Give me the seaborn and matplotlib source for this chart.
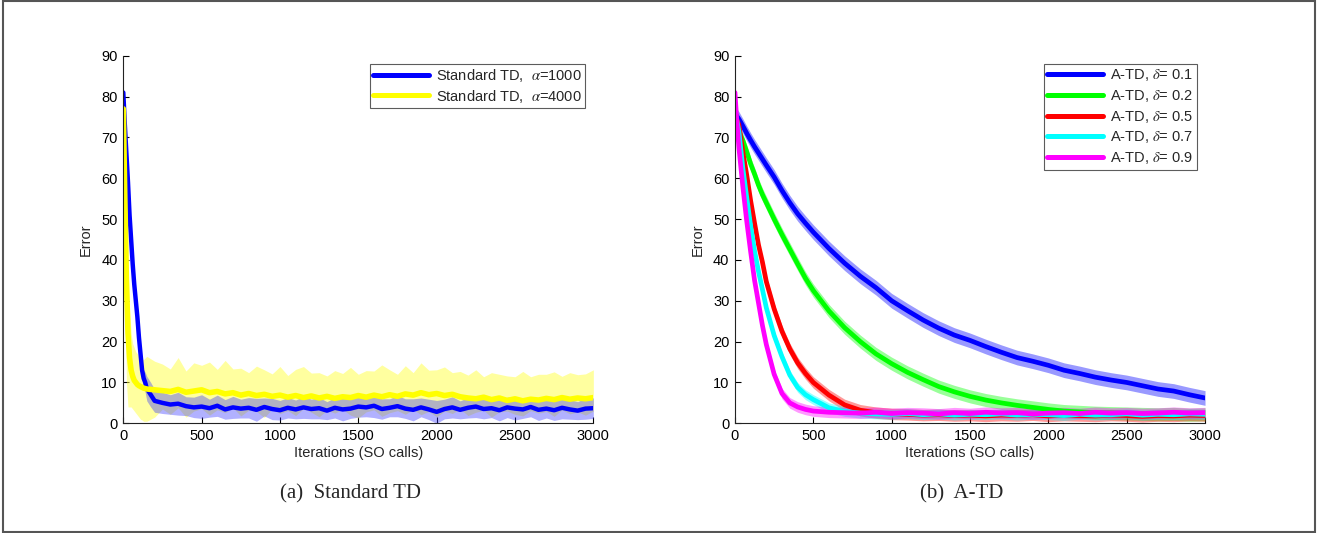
import numpy as np
import pandas as pd
import seaborn as sns
from matplotlib import pyplot as plt

# ---- data ----
# (a) standard TD, x sampled finer during the fast drop
iters_a = [0, 10, 20, 30, 40, 50, 60, 70, 80, 90, 100, 110, 120, 130, 140, 150, 175, 200] + list(range(250, 3001, 50))

td1000_mean = [81, 73, 66, 59, 51, 45, 39, 34, 30, 26, 21, 17, 13, 11, 10, 8.5, 7, 5.5,
               5.0, 4.6, 4.8, 4.2, 3.9, 4.1, 3.7, 4.3,
               3.4, 3.9, 3.6, 3.8, 3.3, 4.0, 3.5, 3.2,
               3.8, 3.4, 3.9, 3.5, 3.7, 3.1, 3.8, 3.4,
               3.6, 4.1, 3.9, 4.3, 3.5, 3.8, 4.2, 3.6,
               3.3, 3.9, 3.4, 2.8, 3.5, 3.9, 3.3, 3.8,
               4.1, 3.5, 3.7, 3.2, 3.9, 3.6, 3.4, 4.0,
               3.3, 3.6, 3.2, 3.8, 3.4, 3.1, 3.6, 3.7]
td1000_spread = [1.0, 1.5, 1.5, 1.5, 1.5, 1.5, 1.5, 1.5, 1.5, 1.5, 1.5, 1.5, 1.8, 2.0, 2.5, 3.0, 3.0, 2.8,
                 2.6, 2.4, 2.8, 2.3, 2.5, 2.9, 2.2, 2.6,
                 2.4, 2.7, 2.3, 2.5, 2.8, 2.2, 2.6, 2.4,
                 2.5, 2.3, 2.7, 2.4, 2.6, 2.2, 2.5, 2.8,
                 2.4, 2.6, 2.3, 2.9, 2.5, 2.2, 2.6, 2.4,
                 2.7, 2.3, 2.5, 2.8, 2.4, 2.6, 2.2, 2.5,
                 2.7, 2.4, 2.3, 2.6, 2.5, 2.8, 2.2, 2.4,
                 2.6, 2.3, 2.5, 2.7, 2.4, 2.2, 2.6, 2.5]

td4000_mean = [77, 55, 35, 22, 16, 13, 11.5, 10.5, 10, 9.5, 9.2, 9.0, 8.8, 8.6, 8.5, 8.4, 8.3, 8.2,
               8.0, 7.8, 8.3, 7.6, 7.9, 8.2, 7.5, 7.8,
               7.2, 7.5, 6.9, 7.3, 6.8, 7.1, 6.6, 6.9,
               6.4, 6.8, 6.3, 6.7, 6.2, 6.6, 6.1, 6.5,
               6.3, 6.8, 6.4, 6.9, 6.5, 7.0, 6.6, 7.2,
               6.9, 7.5, 7.0, 7.3, 6.8, 7.1, 6.5, 6.2,
               6.0, 6.4, 5.8, 6.2, 5.6, 6.0, 5.5, 5.9,
               5.7, 6.1, 5.8, 6.3, 5.9, 6.2, 6.0, 6.3]
# upper spread of the light yellow band, and its lower edge
td4000_up = [3, 20, 25, 18, 12, 9, 8, 8, 7.5, 7.5, 7, 7, 7, 7, 7.5, 8, 7.5, 7,
             6.5, 5.5, 7.8, 5.2, 6.9, 6.0, 7.5, 5.4,
             8.2, 5.8, 6.6, 5.1, 7.2, 6.0, 5.5, 7.0,
             5.3, 6.4, 7.6, 5.6, 6.2, 5.0, 6.8, 5.7,
             7.4, 5.2, 6.5, 5.9, 7.8, 6.1, 5.4, 6.9,
             5.5, 7.3, 6.0, 5.8, 7.0, 5.3, 6.2, 5.6,
             7.1, 5.0, 6.6, 5.8, 6.0, 5.4, 7.2, 5.5,
             6.3, 5.9, 6.8, 5.2, 6.5, 5.7, 6.1, 6.8]
td4000_low = [74, 35, 10, 4, 4, 4, 3.5, 3, 2.5, 2, 1.5, 1, 0.8, 0.5, 0.5, 0.5, 1, 1.5,
              3.5, 2.2, 3.8, 1.5, 3.0, 3.6, 2.0, 3.3,
              2.6, 3.8, 1.8, 3.2, 2.9, 1.4, 3.5, 2.4,
              3.1, 1.9, 3.6, 2.7, 1.6, 3.2, 2.5, 3.4,
              2.0, 1.3, 2.8, 3.3, 1.7, 2.6, 3.1, 2.2,
              3.4, 2.1, 2.9, 1.6, 3.0, 2.4, 3.5, 1.9,
              2.7, 3.2, 1.5, 2.8, 3.0, 2.2, 1.8, 3.1,
              2.5, 2.9, 1.7, 3.3, 2.3, 2.8, 2.0, 3.0]

# (b) A-TD
iters_b = [0, 10, 25, 50, 75, 100, 125, 150, 175, 200, 250, 300, 350, 400, 450, 500] + list(range(600, 3001, 100))

atd_01 = [76, 75.3, 74.5, 72.8, 71, 69.3, 67.7, 66.2, 64.7, 63.2,
          60.3, 57, 54, 51.3, 49, 46.8,
          42.8, 39.2, 36, 33.2, 30.0, 27.6, 25.3, 23.3, 21.6, 20.3,
          18.8, 17.4, 16.1, 15.2, 14.2, 13.0, 12.2, 11.3, 10.6, 10.0,
          9.2, 8.4, 7.9, 7.0, 6.2]
atd_02 = [75, 73.5, 71.5, 69.3, 66.5, 63.5, 61, 58.3, 56, 54,
          50, 46.2, 42.6, 39, 35.5, 32.5,
          27.5, 23.4, 20, 17, 14.6, 12.5, 10.7, 9.0, 7.7, 6.6,
          5.7, 5.0, 4.4, 3.9, 3.4, 3.0, 2.8, 2.6, 2.5, 2.4,
          2.3, 2.2, 2.3, 2.1, 2.2]
atd_05 = [75, 74.5, 73, 66.5, 60.8, 54.5, 49, 43.7, 39.5, 34.7,
          28, 22.5, 18.2, 14.8, 12.2, 10,
          6.9, 4.5, 3.2, 2.6, 2.3, 2.2, 2.0, 2.1, 1.9, 2.0,
          1.8, 2.0, 1.9, 2.1, 1.8, 2.0, 1.9, 1.8, 2.0, 1.9,
          1.7, 1.9, 1.8, 2.0, 1.9]
atd_07 = [76, 74.5, 71.5, 62.5, 55.3, 48.3, 42.2, 37.2, 32.8, 28.3,
          21.5, 16.3, 11.8, 8.8, 7.0, 5.8,
          3.8, 2.9, 2.5, 2.3, 2.2, 2.4, 2.1, 2.3, 2.0, 2.2,
          2.1, 2.3, 2.0, 2.2, 2.1, 1.9, 2.2, 2.0, 2.1, 2.3,
          2.0, 2.2, 2.1, 2.3, 2.2]
atd_09 = [81, 75, 67.5, 58, 49.5, 42, 35, 29.5, 24, 19.3,
          12, 7.3, 5.0, 4.0, 3.4, 3.0,
          2.7, 2.6, 2.5, 2.7, 2.4, 2.6, 2.5, 2.3, 2.6, 2.4,
          2.7, 2.5, 2.6, 2.3, 2.5, 2.6, 2.4, 2.7, 2.5, 2.6,
          2.4, 2.5, 2.7, 2.5, 2.6]
atd_spread = [1.8, 1.6, 1.4, 1.2, 1.3]
atd_labels = ['0.1', '0.2', '0.5', '0.7', '0.9']

sns.set_style('white')
plt.rcParams['font.family'] = ['Liberation Sans', 'DejaVu Sans']
plt.rcParams['mathtext.fontset'] = 'stix'

fig = plt.figure(figsize=(13.2, 5.33), dpi=100)
ax1 = fig.add_axes([0.0934, 0.2058, 0.3561, 0.6897])
ax2 = fig.add_axes([0.5568, 0.2058, 0.3561, 0.6897])


def band(ax, x, lo, hi, color, a):
    ax.fill_between(x, lo, hi, color=color, alpha=a, linewidth=0)


# left panel
m1 = np.array(td1000_mean)
s1 = np.array(td1000_spread)
m4 = np.array(td4000_mean)
band(ax1, iters_a, td4000_low, m4 + np.array(td4000_up), '#ffff40', 0.5)
band(ax1, iters_a, m1 - s1, m1 + s1, '#3333ff', 0.38)
sns.lineplot(x=iters_a, y=td1000_mean, ax=ax1, color='#0000ff', linewidth=3.2,
             label=r'Standard TD,  $\alpha$=1000')
sns.lineplot(x=iters_a, y=td4000_mean, ax=ax1, color='#ffff00', linewidth=4.0,
             label=r'Standard TD,  $\alpha$=4000')

# right panel
colors_b = ['#0000ff', '#00ff00', '#ff0000', '#00ffff', '#ff00ff']
for ys, sp, c, lab in zip([atd_01, atd_02, atd_05, atd_07, atd_09], atd_spread, colors_b, atd_labels):
    y = np.array(ys)
    band(ax2, iters_b, y - sp, y + sp, c, 0.4)
    sns.lineplot(x=iters_b, y=ys, ax=ax2, color=c, linewidth=3.4,
                 label=r'A-TD, $\delta$= ' + lab)

for ax, lsp in ((ax1, 0.22), (ax2, 0.32)):
    ax.set_xlim(0, 3000)
    ax.set_ylim(0, 90)
    ax.set_xticks(range(0, 3001, 500))
    ax.set_yticks(range(0, 91, 10))
    ax.tick_params(direction='in', length=4, width=0.8, labelsize=10.5, colors='k', pad=4,
                   left=True, bottom=True)
    for side in ('top', 'right'):
        ax.spines[side].set_visible(False)
    for side in ('left', 'bottom'):
        ax.spines[side].set_color('#222222')
        ax.spines[side].set_linewidth(0.8)
    ax.set_xlabel('Iterations (SO calls)', fontsize=10.5, labelpad=2)
    ax.set_ylabel('Error', fontsize=10.5, labelpad=6)
    leg = ax.legend(loc='upper right', fontsize=10.5, frameon=True, fancybox=False,
                    handlelength=3.8, handletextpad=0.5, borderpad=0.25, labelspacing=lsp,
                    borderaxespad=0.55)
    leg.get_frame().set_edgecolor('#333333')
    leg.get_frame().set_linewidth(0.8)
    for h in leg.get_lines():
        h.set_linewidth(3.6)

fig.text(350 / 1320, 1 - 494 / 533, '(a)  Standard TD', ha='center', va='center',
         family='Liberation Serif', fontsize=15)
fig.text(962 / 1320, 1 - 494 / 533, '(b)  A-TD', ha='center', va='center',
         family='Liberation Serif', fontsize=15)

fig.add_artist(plt.Rectangle((0.0023, 0.001), 0.9939, 0.997, transform=fig.transFigure,
                             fill=False, edgecolor='#555555', linewidth=1.5))

fig.savefig('out.png', dpi=100)
